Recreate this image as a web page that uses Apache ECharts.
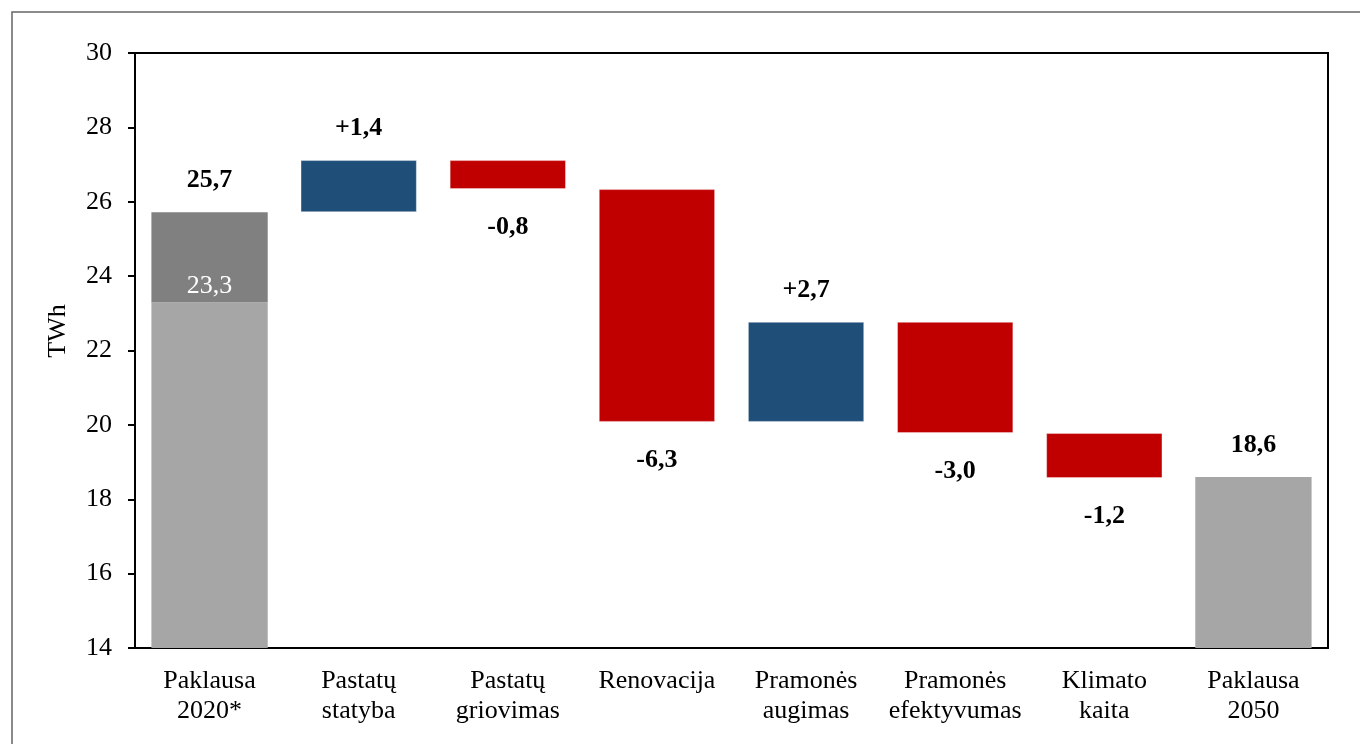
<!DOCTYPE html>
<html>
<head>
<meta charset="utf-8">
<script src="https://cdn.jsdelivr.net/npm/echarts@6/dist/echarts.min.js"></script>
<style>
  html, body { margin: 0; padding: 0; background: #fff; }
  #chart { width: 1360px; height: 744px; }
</style>
</head>
<body>
<div id="chart"></div>
<script>
// ---- data ----
const categories = ['Paklausa\n2020*', 'Pastatų\nstatyba', 'Pastatų\ngriovimas', 'Renovacija',
                    'Pramonės\naugimas', 'Pramonės\nefektyvumas', 'Klimato\nkaita', 'Paklausa\n2050'];
const startTotal = 25.72;      // Paklausa 2020* (total)
const startBase = 23.30;       // lower (light grey) part of 2020*
const changes = [null, 1.40, -0.78, -6.26, 2.69, -2.99, -1.21, null];
const endTotal = 18.60;        // Paklausa 2050
const yTicks = { min: 14, max: 30, interval: 2 };

// ---- build waterfall stacks ----
const fmt = v => v.toFixed(1).replace('.', ',');
const fmtSigned = v => (v > 0 ? '+' : '') + fmt(v);

const baseArr = [], lightArr = [], darkArr = [], posArr = [], negArr = [];
let level = startTotal;
categories.forEach((c, i) => {
  if (i === 0) {
    baseArr.push('-'); lightArr.push(startBase); darkArr.push(+(startTotal - startBase).toFixed(2));
    posArr.push('-'); negArr.push('-');
  } else if (i === categories.length - 1) {
    baseArr.push('-'); lightArr.push(endTotal); darkArr.push('-'); posArr.push('-'); negArr.push('-');
  } else {
    const d = changes[i];
    const next = level + d;
    baseArr.push(+Math.min(level, next).toFixed(2));
    lightArr.push('-'); darkArr.push('-');
    if (d >= 0) { posArr.push(d); negArr.push('-'); }
    else { posArr.push('-'); negArr.push(-d); }
    level = next;
  }
});

const FONT = "'Liberation Serif', 'Times New Roman', serif";
const BAR_W = '78%';

const chart = echarts.init(document.getElementById('chart'), null, { renderer: 'canvas' });
chart.setOption({
  backgroundColor: '#ffffff',
  animation: false,
  textStyle: { fontFamily: FONT },
  grid: { left: 135, right: 32, top: 53, bottom: 96, show: true, borderColor: '#000', borderWidth: 2, backgroundColor: 'transparent' },
  graphic: [
    { type: 'rect', shape: { x: 12, y: 12, width: 1400, height: 800 }, style: { fill: 'none', stroke: '#666', lineWidth: 1.5 }, silent: true, z: -1 },
    { type: 'text', x: 58, y: 331, rotation: Math.PI / 2,
      style: { text: 'TWh', fontFamily: FONT, fontSize: 26, fill: '#000', align: 'center', verticalAlign: 'middle' } }
  ],
  xAxis: {
    type: 'category',
    data: categories,
    axisTick: { show: false },
    axisLine: { lineStyle: { color: '#000', width: 2 } },
    axisLabel: { color: '#000', fontFamily: FONT, fontSize: 26, lineHeight: 30, margin: 18, interval: 0 }
  },
  yAxis: {
    type: 'value',
    min: yTicks.min, max: yTicks.max, interval: yTicks.interval,
    splitLine: { show: false },
    axisLine: { show: true, lineStyle: { color: '#000', width: 2 } },
    axisTick: { show: true, inside: false, length: 7, lineStyle: { color: '#000', width: 2 } },
    axisLabel: { color: '#000', fontFamily: FONT, fontSize: 26, margin: 23 }
  },
  series: [
    { name: 'base', type: 'bar', stack: 'w', barWidth: BAR_W, data: baseArr,
      itemStyle: { color: 'transparent' }, silent: true },
    { name: 'light', type: 'bar', stack: 'w', barWidth: BAR_W, data: lightArr,
      itemStyle: { color: '#A6A6A6' },
      label: { show: true, fontFamily: FONT, fontSize: 26,
        formatter: p => (p.dataIndex === 0 ? fmt(p.value) : ''),
        position: 'top', distance: 3, color: '#ffffff' }
    },
    { name: 'lightTotal', type: 'bar', stack: 'w2', barGap: '-100%', barWidth: BAR_W,
      data: lightArr.map((v, i) => i === categories.length - 1 ? v : '-'),
      itemStyle: { color: 'transparent' },
      label: { show: true, position: 'top', distance: 19, fontFamily: FONT, fontSize: 26, fontWeight: 'bold', color: '#000',
        formatter: p => fmt(p.value) } },
    { name: 'dark', type: 'bar', stack: 'w', barWidth: BAR_W, data: darkArr,
      itemStyle: { color: '#808080' },
      label: { show: true, position: 'top', distance: 19, fontFamily: FONT, fontSize: 26, fontWeight: 'bold', color: '#000',
        formatter: () => fmt(startTotal) } },
    { name: 'pos', type: 'bar', stack: 'w', barWidth: BAR_W, data: posArr,
      itemStyle: { color: '#1F4E79', borderColor: 'rgba(255,255,255,0.35)', borderWidth: 1 },
      label: { show: true, position: 'top', distance: 19, fontFamily: FONT, fontSize: 26, fontWeight: 'bold', color: '#000',
        formatter: p => fmtSigned(p.value) } },
    { name: 'neg', type: 'bar', stack: 'w', barWidth: BAR_W, data: negArr,
      itemStyle: { color: '#C00000', borderColor: 'rgba(255,255,255,0.35)', borderWidth: 1 },
      label: { show: true, position: 'bottom', distance: 25, fontFamily: FONT, fontSize: 26, fontWeight: 'bold', color: '#000',
        formatter: p => fmtSigned(-p.value) } }
  ]
});
</script>
</body>
</html>
